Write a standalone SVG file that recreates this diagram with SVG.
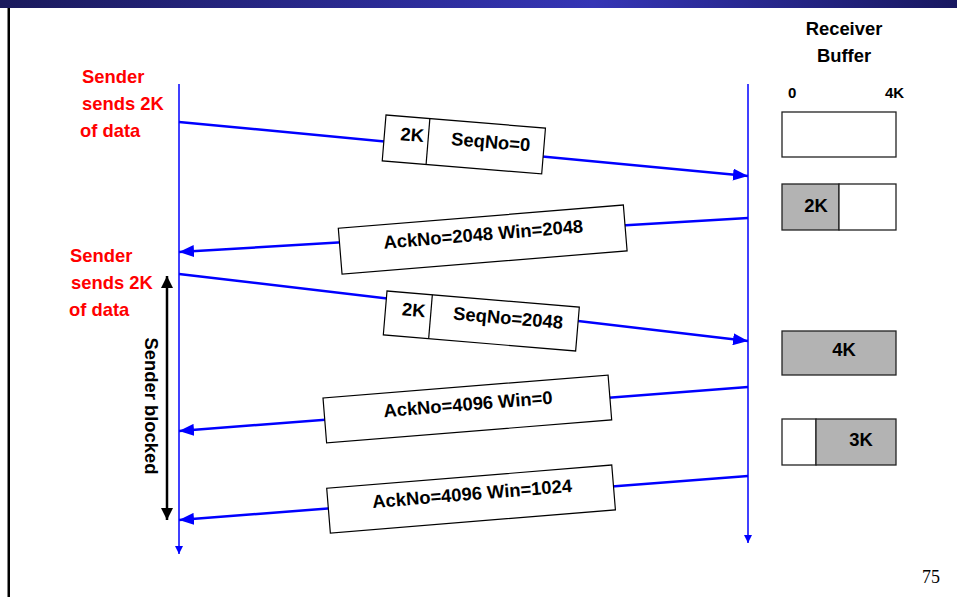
<svg xmlns="http://www.w3.org/2000/svg" width="957" height="597" viewBox="0 0 957 597">
<defs>
<linearGradient id="bar" x1="0" y1="0" x2="1" y2="0">
<stop offset="0" stop-color="#1a1a5c"/>
<stop offset="0.62" stop-color="#3535b5"/>
<stop offset="1" stop-color="#181860"/>
</linearGradient>
<marker id="msg" markerUnits="userSpaceOnUse" markerWidth="15" markerHeight="12" refX="15" refY="6" orient="auto">
<path d="M0,0 L15,6 L0,12 z" fill="#0000ff"/>
</marker>
<marker id="tl" markerUnits="userSpaceOnUse" markerWidth="8" markerHeight="8" refX="8" refY="4" orient="auto">
<path d="M0,0 L8,4 L0,8 z" fill="#0000ff"/>
</marker>
<marker id="blk" markerUnits="userSpaceOnUse" markerWidth="12" markerHeight="12" refX="12" refY="6" orient="auto-start-reverse">
<path d="M0,0 L12,6 L0,12 z" fill="#000"/>
</marker>
</defs>
<style>
text{font-family:"Liberation Sans",Arial,sans-serif;font-weight:bold;font-size:18.4px;fill:#000}
.red{fill:#ff0000}
.box{fill:#fff;stroke:#000;stroke-width:1.2}
.buf{stroke:#222;stroke-width:1.3}
.msgl{stroke:#0000ff;stroke-width:2.5;fill:none}
.tline{stroke:#0000ff;stroke-width:1.5;fill:none}
.small{font-size:15px}
.mid{text-anchor:middle}
</style>
<rect x="0" y="0" width="957" height="8" fill="url(#bar)"/>
<rect x="7.5" y="8" width="2.5" height="589" fill="#000"/>

<g id="sender-label-1">
<text class="red" x="82" y="83">Sender</text>
<text class="red" x="82" y="110">sends 2K</text>
<text class="red" x="80" y="137">of data</text>
</g>
<g id="sender-label-2">
<text class="red" x="70" y="262">Sender</text>
<text class="red" x="71" y="289">sends 2K</text>
<text class="red" x="69" y="316">of data</text>
</g>
<g id="receiver-title">
<text class="mid" x="844" y="35">Receiver</text>
<text class="mid" x="844" y="62">Buffer</text>
<text class="small" x="788" y="98">0</text>
<text class="small" x="885" y="98">4K</text>
</g>

<g id="connectors">
<line class="tline" x1="179" y1="84" x2="179" y2="554" marker-end="url(#tl)"/>
<line class="tline" x1="748" y1="84" x2="748" y2="543" marker-end="url(#tl)"/>
<line class="msgl" x1="179" y1="122" x2="748" y2="176" marker-end="url(#msg)"/>
<line class="msgl" x1="748" y1="218" x2="179" y2="252" marker-end="url(#msg)"/>
<line class="msgl" x1="179" y1="274" x2="748" y2="341" marker-end="url(#msg)"/>
<line class="msgl" x1="748" y1="387" x2="179" y2="431" marker-end="url(#msg)"/>
<line class="msgl" x1="748" y1="476" x2="179" y2="520" marker-end="url(#msg)"/>
<line x1="167" y1="276" x2="167" y2="520" stroke="#000" stroke-width="2.5" marker-start="url(#blk)" marker-end="url(#blk)"/>
</g>

<g id="sender-blocked">
<text class="mid" transform="translate(144.5,406) rotate(90)">Sender blocked</text>
</g>

<g id="packet-1" transform="translate(386,115) rotate(4.7)">
<rect class="box" x="0" y="0" width="160" height="46"/>
<line x1="44" y1="0" x2="44" y2="46" stroke="#000" stroke-width="1.2"/>
<text x="16" y="24">2K</text>
<text x="67" y="24.5">SeqNo=0</text>
</g>
<g id="ack-1" transform="translate(338.3,228.3) rotate(-4.67)">
<rect class="box" x="0" y="0" width="286" height="46"/>
<text class="mid" x="144" y="24">AckNo=2048 Win=2048</text>
</g>
<g id="packet-2" transform="translate(387,291) rotate(4.8)">
<rect class="box" x="0" y="0" width="193" height="44"/>
<line x1="45.5" y1="0" x2="45.5" y2="44" stroke="#000" stroke-width="1.2"/>
<text x="16.5" y="23">2K</text>
<text x="68" y="23">SeqNo=2048</text>
</g>
<g id="ack-2" transform="translate(323,398) rotate(-4.6)">
<rect class="box" x="0" y="0" width="286" height="45"/>
<text class="mid" x="144" y="24">AckNo=4096 Win=0</text>
</g>
<g id="ack-3" transform="translate(326.7,488.3) rotate(-4.67)">
<rect class="box" x="0" y="0" width="286" height="45"/>
<text class="mid" x="144.5" y="23.5">AckNo=4096 Win=1024</text>
</g>

<g id="buffer-1">
<rect class="buf" x="782" y="112" width="114" height="45" fill="#fff"/>
</g>
<g id="buffer-2">
<rect class="buf" x="782" y="184" width="57" height="46" fill="#b3b3b3"/>
<rect class="buf" x="839" y="184" width="57" height="46" fill="#fff"/>
<text class="mid" x="816" y="212">2K</text>
</g>
<g id="buffer-3">
<rect class="buf" x="782" y="331" width="114" height="44" fill="#b3b3b3"/>
<text class="mid" x="844" y="356">4K</text>
</g>
<g id="buffer-4">
<rect class="buf" x="782" y="419" width="34" height="46" fill="#fff"/>
<rect class="buf" x="816" y="419" width="80" height="46" fill="#b3b3b3"/>
<text class="mid" x="861" y="446">3K</text>
</g>

<text x="922" y="583" style="font-family:'Liberation Serif','Times New Roman',serif;font-weight:normal;font-size:18px">75</text>
</svg>
